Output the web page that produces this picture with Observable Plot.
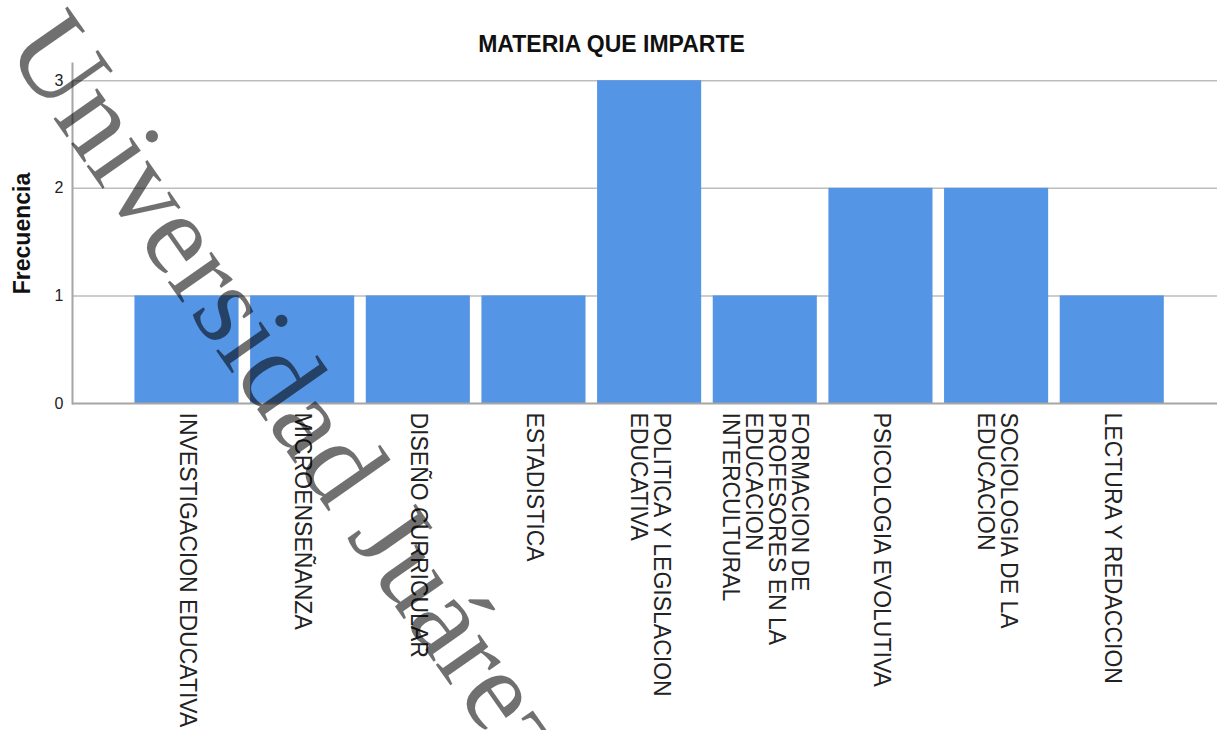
<!DOCTYPE html>
<html><head><meta charset="utf-8">
<script src="https://cdn.jsdelivr.net/npm/d3@7"></script>
<script src="https://cdn.jsdelivr.net/npm/@observablehq/plot@0.6"></script>
<style>
body{margin:0;background:#fff;width:1217px;height:730px;overflow:hidden;position:relative;font-family:"Liberation Sans",Arial,sans-serif}
#title{height:60px;box-sizing:border-box;padding-top:32px;line-height:24px;font-size:23px;font-weight:bold;text-align:center;color:#111;padding-left:6px}
#chart svg{display:block}
#wm{position:absolute;left:0;top:0;pointer-events:none}
</style></head><body>
<div id="title">MATERIA QUE IMPARTE</div>
<div id="chart"></div>
<svg id="wm" width="1217" height="730"><text x="4" y="48" transform="rotate(55 4 48)" font-family="Liberation Serif, Times New Roman, serif" font-size="116" fill="#000" fill-opacity="0.56">Universidad Juárez Autónoma de Tabasco</text></svg>
<script>
const categories = [
  "INVESTIGACION EDUCATIVA",
  "MICROENSEÑANZA",
  "DISEÑO CURRICULAR",
  "ESTADISTICA",
  "POLITICA Y LEGISLACION EDUCATIVA",
  "FORMACION DE PROFESORES EN LA EDUCACION INTERCULTURAL",
  "PSICOLOGIA EVOLUTIVA",
  "SOCIOLOGIA DE LA EDUCACION",
  "LECTURA Y REDACCION"
];
const tickLabels = [
  "INVESTIGACION EDUCATIVA",
  "MICROENSEÑANZA",
  "DISEÑO CURRICULAR",
  "ESTADISTICA",
  "POLITICA Y LEGISLACION\nEDUCATIVA",
  "FORMACION DE\nPROFESORES EN LA\nEDUCACION\nINTERCULTURAL",
  "PSICOLOGIA EVOLUTIVA",
  "SOCIOLOGIA DE LA\nEDUCACION",
  "LECTURA Y REDACCION"
];
const frequencies = [1, 1, 1, 1, 3, 1, 2, 2, 1];
const yTicks = [0, 1, 2, 3];
const yLabel = "Frecuencia";

const data = categories.map((c, i) => ({materia: c, freq: frequencies[i]}));
const labelOf = new Map(categories.map((c, i) => [c, tickLabels[i]]));

const chart = Plot.plot({
  width: 1217, height: 670,
  marginLeft: 72, marginRight: 0, marginTop: 3, marginBottom: 327,
  style: {fontFamily: "Liberation Sans, Arial, sans-serif", background: "white", color: "#222"},
  x: {domain: categories, paddingInner: 0.1, paddingOuter: 0.5, align: 0.54, round: false, label: null},
  y: {domain: [0, 3.16], label: null},
  marks: [
    Plot.gridY(yTicks.filter(d => d > 0), {stroke: "#bdbdbd", strokeOpacity: 1, strokeWidth: 1.5}),
    Plot.barY(data, {x: "materia", y: "freq", fill: "#5595e5"}),
    Plot.ruleY([0], {stroke: "#a6a6a6", strokeWidth: 2}),
    Plot.frame({anchor: "left", stroke: "#a6a6a6", strokeWidth: 2}),
    Plot.axisY({ticks: yTicks, tickSize: 0, tickPadding: 9, fontSize: 16, tickFormat: d3.format("d"), label: null}),
    Plot.axisX({tickSize: 0, tickPadding: 9, tickRotate: 90, textAnchor: "start", lineAnchor: "middle",
      fontSize: 23, lineHeight: 1, tickFormat: d => labelOf.get(d), label: null}),
    Plot.text([yLabel], {frameAnchor: "left", rotate: -90, dx: -50, textAnchor: "middle", lineAnchor: "middle",
      fontSize: 23, fontWeight: "bold", fill: "#111"})
  ]
});
document.getElementById("chart").appendChild(chart);
</script>
</body></html>
